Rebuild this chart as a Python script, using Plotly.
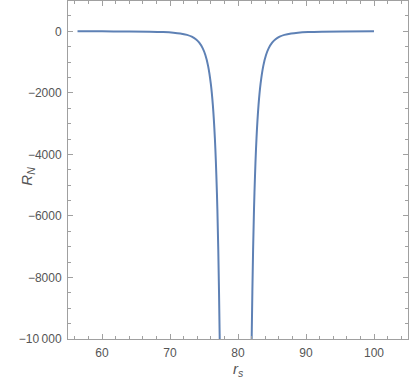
import plotly.graph_objects as go

# Curve (left branch, gap at the divergence, right branch)
r_s = [56.4, 60.0, 64.0, 67.0, 69.0, 70.5, 71.5, 72.5, 73.2, 73.8, 74.3, 74.8, 75.2,
       75.6, 76.0, 76.3, 76.6, 76.9, 77.1, 77.3, 77.4,
       None,
       81.92, 82.02, 82.22, 82.42, 82.72, 83.02, 83.32, 83.72, 84.12, 84.52, 85.02,
       85.52, 86.12, 86.82, 87.82, 88.82, 90.32, 92.32, 95.32, 100.0]
R_N = [-1.0, -2.0, -5.1, -11.9, -23.6, -43.3, -68.8, -116, -175, -259, -369, -547, -771,
       -1122, -1700, -2392, -3478, -5255, -7101, -9832, -11690,
       None,
       -11690, -9832, -7101, -5255, -3478, -2392, -1700, -1122, -771, -547, -369,
       -259, -175, -116, -68.8, -43.3, -23.6, -11.9, -5.1, -1.8]

x_ticks = [60, 70, 80, 90, 100]
y_ticks = [0, -2000, -4000, -6000, -8000, -10000]
y_ticktext = ["0", "\u22122000", "\u22124000", "\u22126000", "\u22128000", "\u221210\u2009000"]

fig = go.Figure()
fig.add_trace(go.Scatter(x=r_s, y=R_N, mode="lines", line=dict(color="#5E81B5", width=2),
                         line_shape="spline", connectgaps=False, showlegend=False))

axis_common = dict(showline=True, linecolor="#A0A0A0", linewidth=1, mirror="ticks",
                   ticks="inside", tickcolor="#A0A0A0", ticklen=5, showgrid=False,
                   zeroline=False, ticklabelstandoff=3,
                   tickfont=dict(family="Liberation Sans, Arial", size=12, color="#555555"))

fig.update_xaxes(range=[55, 105], tickvals=x_ticks,
                 minor=dict(ticks="inside", dtick=2, ticklen=3, tickcolor="#A0A0A0", showgrid=False),
                 **axis_common)
fig.update_yaxes(range=[-10000, 985], tickvals=y_ticks, ticktext=y_ticktext,
                 minor=dict(ticks="inside", dtick=500, ticklen=3, tickcolor="#A0A0A0", showgrid=False),
                 **axis_common)

fig.add_annotation(text="<i>R</i><sub><i>N</i></sub>", xref="paper", yref="paper",
                   x=-0.118, y=0.483, xanchor="center", yanchor="middle",
                   showarrow=False, textangle=-90,
                   font=dict(family="Liberation Sans, Arial", size=15, color="#555555"))
fig.add_annotation(text="<i>r</i><sub><i>s</i></sub>", xref="paper", yref="paper",
                   x=0.5, y=-0.09, xanchor="center", yanchor="middle", showarrow=False,
                   font=dict(family="Liberation Sans, Arial", size=15, color="#555555"))

fig.update_layout(width=409, height=382, margin=dict(l=68, r=1, t=1, b=43),
                  plot_bgcolor="white", paper_bgcolor="white")
fig.write_html("out.html", config={"displayModeBar": False},
               post_script="document.body.style.margin='0';document.body.style.overflow='hidden';")
